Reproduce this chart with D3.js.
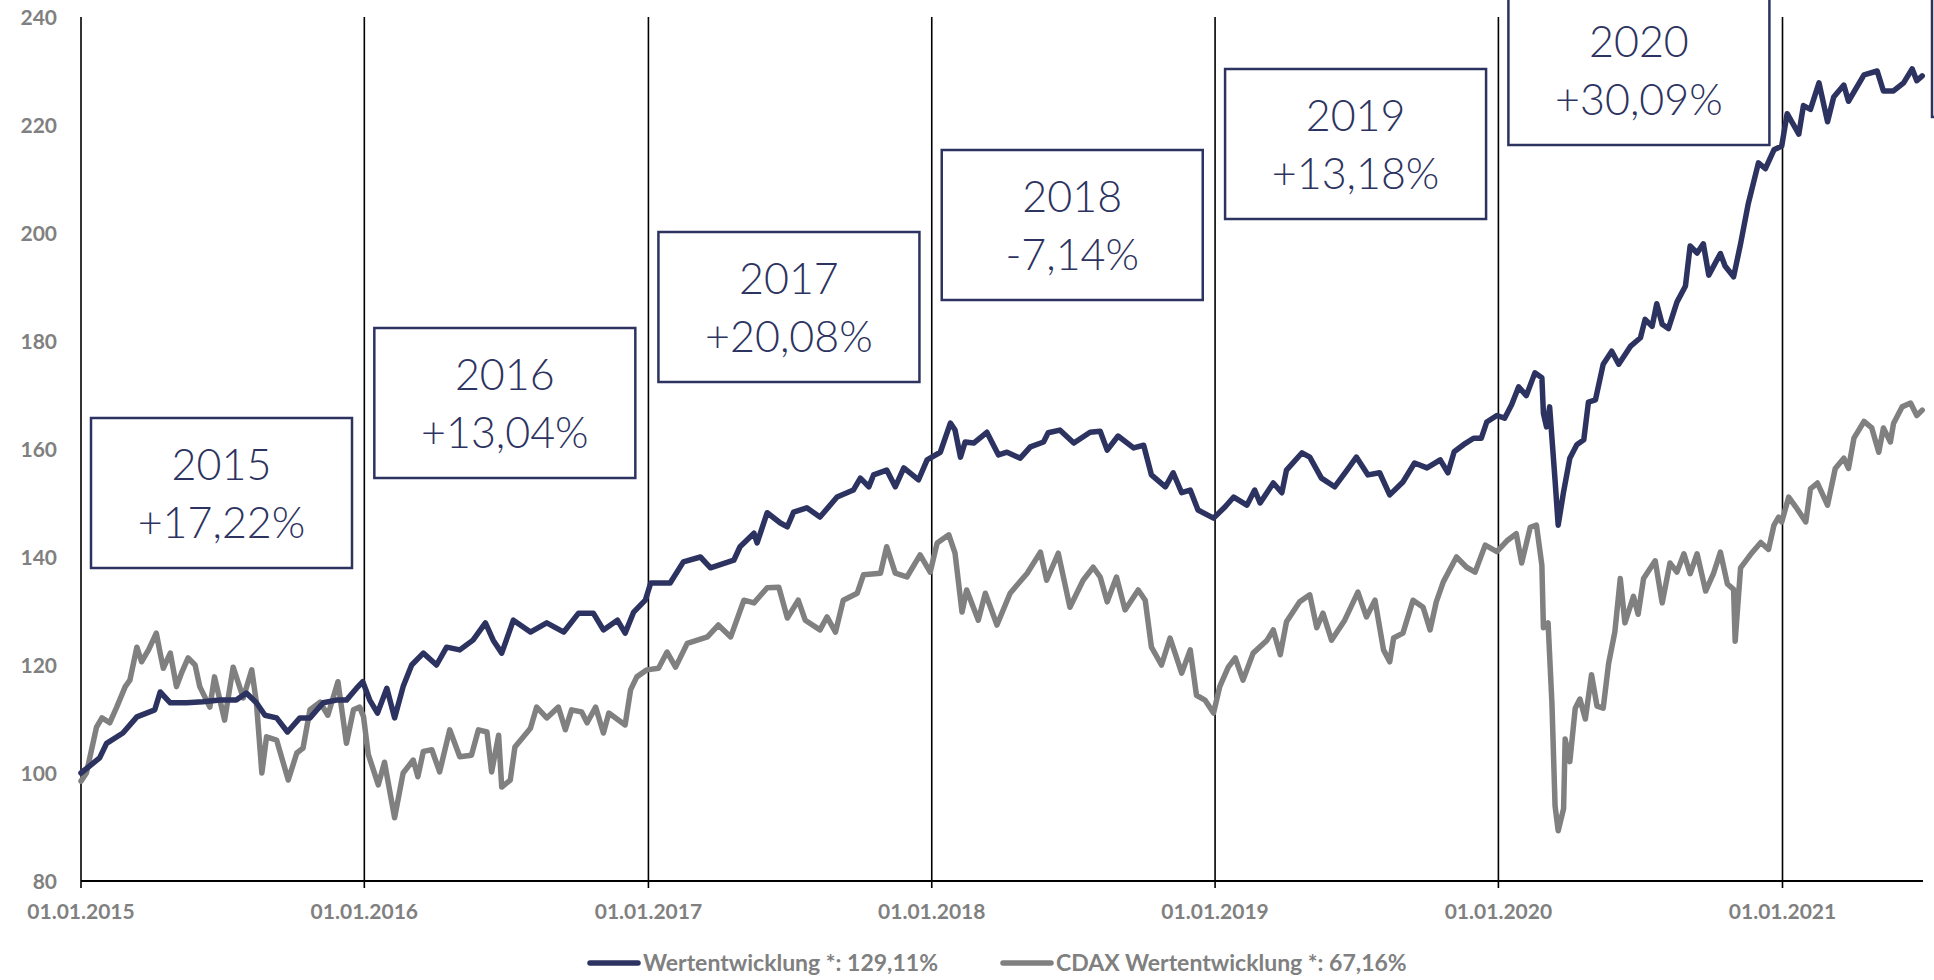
<!DOCTYPE html>
<html>
<head>
<meta charset="utf-8">
<script src="https://cdn.jsdelivr.net/npm/d3@7"></script>
<style>
  html, body { margin: 0; padding: 0; background: #fff; }
  svg { display: block; }
</style>
</head>
<body>
<svg id="chart" width="1934" height="980"></svg>
<script>
// Wertentwicklung (Fonds), indexiert auf 100
const fundSeries = [
  ['2015-01-01', 100.0], ['2015-01-25', 102.8], ['2015-02-03', 105.5], ['2015-02-24', 107.4], ['2015-03-14', 110.4],
  ['2015-04-06', 111.7], ['2015-04-13', 115.0], ['2015-04-26', 113.0], ['2015-05-17', 113.0], ['2015-06-07', 113.2],
  ['2015-06-29', 113.5], ['2015-07-20', 113.5], ['2015-08-02', 114.8], ['2015-08-15', 113.0], ['2015-08-26', 110.7],
  ['2015-09-10', 110.2], ['2015-09-24', 107.6], ['2015-10-10', 110.2], ['2015-10-23', 110.2], ['2015-11-09', 113.0],
  ['2015-11-26', 113.5], ['2015-12-09', 113.5], ['2015-12-22', 115.7], ['2015-12-30', 116.9],
  ['2016-01-08', 113.5], ['2016-01-18', 111.1], ['2016-01-30', 115.7], ['2016-02-09', 110.2], ['2016-02-20', 116.0],
  ['2016-03-02', 120.0], ['2016-03-17', 122.2], ['2016-04-03', 120.0], ['2016-04-16', 123.3], ['2016-05-03', 122.8],
  ['2016-05-20', 124.6], ['2016-06-05', 127.8], ['2016-06-15', 124.6], ['2016-06-26', 122.2], ['2016-07-11', 128.3],
  ['2016-08-02', 126.1], ['2016-08-23', 127.8], ['2016-09-14', 126.1], ['2016-10-03', 129.6], ['2016-10-22', 129.6],
  ['2016-11-04', 126.5], ['2016-11-22', 128.3], ['2016-12-02', 125.9], ['2016-12-13', 129.8], ['2016-12-28', 132.0],
  ['2017-01-04', 135.2], ['2017-01-29', 135.2], ['2017-02-15', 139.1], ['2017-03-09', 140.0], ['2017-03-22', 138.0],
  ['2017-04-21', 139.4], ['2017-04-29', 141.9], ['2017-05-17', 144.4], ['2017-05-21', 142.6], ['2017-06-03', 148.2],
  ['2017-06-20', 146.3], ['2017-06-29', 145.6], ['2017-07-07', 148.3], ['2017-07-24', 149.1], ['2017-08-10', 147.4],
  ['2017-09-01', 151.1], ['2017-09-22', 152.4], ['2017-10-01', 154.6], ['2017-10-12', 153.0], ['2017-10-18', 155.2],
  ['2017-11-04', 156.1], ['2017-11-15', 153.0], ['2017-11-26', 156.5], ['2017-12-15', 154.3], ['2017-12-26', 158.0],
  ['2018-01-12', 159.4], ['2018-01-25', 164.8], ['2018-01-31', 163.5], ['2018-02-07', 158.5], ['2018-02-13', 161.3],
  ['2018-02-24', 161.1], ['2018-03-13', 163.1], ['2018-03-28', 158.9], ['2018-04-08', 159.4], ['2018-04-25', 158.3],
  ['2018-05-08', 160.4], ['2018-05-25', 161.3], ['2018-05-31', 163.0], ['2018-06-15', 163.5], ['2018-07-03', 161.1],
  ['2018-07-24', 163.1], ['2018-08-06', 163.3], ['2018-08-15', 159.8], ['2018-08-29', 162.4], ['2018-09-18', 160.2],
  ['2018-10-01', 160.7], ['2018-10-11', 155.2], ['2018-10-29', 153.0], ['2018-11-08', 155.6], ['2018-11-19', 151.9],
  ['2018-11-30', 152.4], ['2018-12-10', 148.7], ['2018-12-30', 147.2],
  ['2019-01-14', 149.3], ['2019-01-25', 151.1], ['2019-02-11', 149.6], ['2019-02-21', 152.4], ['2019-02-28', 150.0],
  ['2019-03-17', 153.7], ['2019-03-28', 151.9], ['2019-04-03', 156.1], ['2019-04-23', 159.3], ['2019-05-03', 158.5],
  ['2019-05-18', 154.6], ['2019-06-04', 153.0], ['2019-06-20', 156.1], ['2019-07-02', 158.5], ['2019-07-17', 155.2],
  ['2019-08-01', 155.6], ['2019-08-14', 151.5], ['2019-08-31', 153.9], ['2019-09-15', 157.4], ['2019-10-01', 156.5],
  ['2019-10-18', 158.0], ['2019-10-28', 155.6], ['2019-11-05', 159.5], ['2019-11-17', 160.8], ['2019-11-30', 162.0],
  ['2019-12-10', 162.0], ['2019-12-17', 165.0], ['2019-12-30', 166.2],
  ['2020-01-09', 165.7], ['2020-01-18', 168.2], ['2020-01-27', 171.5], ['2020-02-06', 169.9], ['2020-02-17', 174.1],
  ['2020-02-26', 173.2], ['2020-02-28', 166.6], ['2020-03-03', 164.1], ['2020-03-07', 167.8], ['2020-03-14', 154.2],
  ['2020-03-18', 145.9], ['2020-03-25', 152.1], ['2020-04-02', 158.3], ['2020-04-11', 160.8], ['2020-04-20', 161.7],
  ['2020-04-26', 168.7], ['2020-05-05', 169.1], ['2020-05-15', 175.7], ['2020-05-26', 178.1], ['2020-06-04', 175.7],
  ['2020-06-19', 179.0], ['2020-07-02', 180.6], ['2020-07-08', 184.0], ['2020-07-17', 182.7], ['2020-07-23', 186.9],
  ['2020-07-30', 183.1], ['2020-08-07', 182.3], ['2020-08-18', 187.2], ['2020-08-29', 190.2], ['2020-09-04', 197.6],
  ['2020-09-13', 196.3], ['2020-09-21', 198.0], ['2020-09-28', 192.2], ['2020-10-13', 196.2], ['2020-10-19', 193.9],
  ['2020-10-30', 191.9], ['2020-11-08', 198.0], ['2020-11-18', 205.5], ['2020-12-01', 213.0], ['2020-12-10', 211.9],
  ['2020-12-21', 215.4], ['2020-12-31', 216.1],
  ['2021-01-07', 222.1], ['2021-01-22', 218.3], ['2021-01-28', 223.6], ['2021-02-06', 222.9], ['2021-02-17', 227.8],
  ['2021-02-28', 220.6], ['2021-03-08', 225.2], ['2021-03-21', 227.4], ['2021-03-27', 224.4], ['2021-04-16', 229.3],
  ['2021-05-03', 230.0], ['2021-05-11', 226.3], ['2021-05-24', 226.3], ['2021-06-06', 227.8], ['2021-06-17', 230.4],
  ['2021-06-23', 228.2], ['2021-06-30', 229.1],
];

// CDAX, indexiert auf 100
const cdaxSeries = [
  ['2015-01-01', 98.5], ['2015-01-08', 100.0], ['2015-01-21', 108.5], ['2015-01-28', 110.2], ['2015-02-07', 109.3],
  ['2015-02-16', 112.2], ['2015-02-27', 116.0], ['2015-03-05', 117.2], ['2015-03-14', 123.3], ['2015-03-20', 120.6],
  ['2015-03-29', 122.8], ['2015-04-08', 125.9], ['2015-04-13', 122.2], ['2015-04-17', 119.4], ['2015-04-26', 122.2],
  ['2015-05-04', 116.0], ['2015-05-11', 118.7], ['2015-05-19', 121.3], ['2015-05-28', 120.0], ['2015-06-03', 116.0],
  ['2015-06-16', 112.2], ['2015-06-22', 117.8], ['2015-07-05', 109.8], ['2015-07-16', 119.6], ['2015-07-29', 113.9],
  ['2015-08-09', 119.1], ['2015-08-15', 113.0], ['2015-08-22', 100.0], ['2015-08-28', 106.7], ['2015-09-10', 106.1],
  ['2015-09-25', 98.7], ['2015-10-06', 103.7], ['2015-10-14', 104.6], ['2015-10-23', 111.7], ['2015-11-05', 113.1],
  ['2015-11-15', 110.7], ['2015-11-28', 116.9], ['2015-12-09', 105.5], ['2015-12-18', 111.7], ['2015-12-26', 112.2],
  ['2015-12-31', 110.4],
  ['2016-01-06', 103.5], ['2016-01-19', 97.8], ['2016-01-27', 102.0], ['2016-02-09', 91.7], ['2016-02-20', 100.0],
  ['2016-03-04', 102.4], ['2016-03-10', 99.3], ['2016-03-17', 104.0], ['2016-03-28', 104.3], ['2016-04-07', 100.2],
  ['2016-04-20', 108.0], ['2016-05-03', 103.0], ['2016-05-18', 103.3], ['2016-05-27', 108.0], ['2016-06-07', 107.6],
  ['2016-06-13', 100.2], ['2016-06-22', 107.0], ['2016-06-26', 97.4], ['2016-07-07', 98.7], ['2016-07-13', 104.8],
  ['2016-07-24', 106.7], ['2016-08-02', 108.3], ['2016-08-10', 112.2], ['2016-08-23', 110.2], ['2016-09-07', 112.2],
  ['2016-09-16', 108.0], ['2016-09-24', 111.7], ['2016-10-07', 111.3], ['2016-10-14', 109.3], ['2016-10-25', 112.2],
  ['2016-11-04', 107.4], ['2016-11-11', 111.1], ['2016-12-02', 108.9], ['2016-12-09', 115.4], ['2016-12-17', 117.8],
  ['2016-12-30', 119.1],
  ['2017-01-14', 119.4], ['2017-01-25', 122.4], ['2017-02-05', 119.6], ['2017-02-20', 124.0], ['2017-03-18', 125.2],
  ['2017-04-01', 127.4], ['2017-04-17', 125.2], ['2017-05-04', 132.0], ['2017-05-17', 131.5], ['2017-06-03', 134.3],
  ['2017-06-18', 134.4], ['2017-06-29', 128.7], ['2017-07-13', 132.0], ['2017-07-22', 128.3], ['2017-08-10', 126.5],
  ['2017-08-19', 128.9], ['2017-08-30', 126.1], ['2017-09-09', 132.0], ['2017-09-27', 133.3], ['2017-10-05', 136.7],
  ['2017-10-27', 137.0], ['2017-11-04', 141.9], ['2017-11-15', 137.0], ['2017-11-30', 136.3], ['2017-12-17', 140.4],
  ['2017-12-30', 137.2],
  ['2018-01-08', 142.6], ['2018-01-23', 144.1], ['2018-01-31', 140.7], ['2018-02-09', 129.8], ['2018-02-15', 133.9],
  ['2018-03-02', 128.3], ['2018-03-11', 133.3], ['2018-03-26', 127.4], ['2018-04-12', 133.3], ['2018-05-04', 137.0],
  ['2018-05-21', 140.9], ['2018-05-29', 135.7], ['2018-06-13', 140.7], ['2018-06-28', 130.7], ['2018-07-15', 135.7],
  ['2018-07-28', 138.1], ['2018-08-06', 136.3], ['2018-08-15', 131.7], ['2018-08-27', 136.3], ['2018-09-07', 130.2],
  ['2018-09-24', 133.9], ['2018-10-03', 132.0], ['2018-10-11', 123.3], ['2018-10-24', 120.0], ['2018-11-04', 125.0],
  ['2018-11-19', 118.5], ['2018-11-30', 122.8], ['2018-12-08', 114.4], ['2018-12-19', 113.5], ['2018-12-30', 111.1],
  ['2019-01-07', 116.0], ['2019-01-18', 119.6], ['2019-01-27', 121.3], ['2019-02-06', 117.2], ['2019-02-19', 122.2],
  ['2019-03-09', 124.6], ['2019-03-17', 126.5], ['2019-03-26', 121.9], ['2019-04-03', 128.0], ['2019-04-20', 131.7],
  ['2019-05-03', 133.0], ['2019-05-12', 126.9], ['2019-05-20', 129.6], ['2019-05-31', 124.6], ['2019-06-17', 128.3],
  ['2019-07-04', 133.5], ['2019-07-15', 128.9], ['2019-07-26', 132.0], ['2019-08-06', 122.8], ['2019-08-14', 120.6],
  ['2019-08-19', 125.0], ['2019-08-31', 125.9], ['2019-09-13', 132.0], ['2019-09-26', 130.7], ['2019-10-05', 126.5],
  ['2019-10-13', 131.7], ['2019-10-22', 135.4], ['2019-11-08', 140.0], ['2019-11-21', 138.1], ['2019-12-02', 137.2],
  ['2019-12-15', 142.2], ['2019-12-30', 141.0],
  ['2020-01-12', 143.0], ['2020-01-24', 144.3], ['2020-01-31', 138.9], ['2020-02-11', 145.5], ['2020-02-19', 145.9],
  ['2020-02-26', 138.5], ['2020-02-28', 126.9], ['2020-03-05', 127.8], ['2020-03-10', 112.8], ['2020-03-14', 93.9],
  ['2020-03-18', 89.3], ['2020-03-25', 93.4], ['2020-03-27', 106.3], ['2020-04-02', 102.1], ['2020-04-09', 112.0],
  ['2020-04-15', 113.7], ['2020-04-22', 110.0], ['2020-04-30', 118.2], ['2020-05-07', 112.4], ['2020-05-15', 112.0],
  ['2020-05-22', 120.3], ['2020-05-30', 126.1], ['2020-06-06', 136.0], ['2020-06-12', 127.8], ['2020-06-23', 132.7],
  ['2020-06-29', 129.4], ['2020-07-06', 136.0], ['2020-07-21', 139.3], ['2020-07-30', 131.5], ['2020-08-09', 138.9],
  ['2020-08-18', 137.2], ['2020-08-27', 140.6], ['2020-09-04', 136.9], ['2020-09-13', 140.6], ['2020-09-24', 133.7],
  ['2020-10-04', 136.9], ['2020-10-13', 140.9], ['2020-10-22', 135.0], ['2020-10-30', 134.0], ['2020-11-01', 124.4],
  ['2020-11-08', 138.0], ['2020-11-21', 140.5], ['2020-12-04', 142.7], ['2020-12-14', 141.4], ['2020-12-21', 145.9],
  ['2020-12-27', 147.4], ['2020-12-31', 146.5],
  ['2021-01-09', 151.1], ['2021-01-18', 149.3], ['2021-01-31', 146.5], ['2021-02-06', 152.6], ['2021-02-15', 153.7],
  ['2021-02-28', 149.6], ['2021-03-10', 156.4], ['2021-03-21', 158.3], ['2021-03-27', 156.4], ['2021-04-03', 162.0],
  ['2021-04-16', 165.1], ['2021-04-26', 163.9], ['2021-05-05', 159.4], ['2021-05-11', 163.9], ['2021-05-20', 161.3],
  ['2021-05-24', 164.7], ['2021-06-04', 167.8], ['2021-06-15', 168.5], ['2021-06-23', 166.2], ['2021-06-30', 167.2],
];

// Jahresergebnisse (Kästen)
const years = ['2015', '2016', '2017', '2018', '2019', '2020'];
const yearReturns = ['+17,22%', '+13,04%', '+20,08%', '-7,14%', '+13,18%', '+30,09%'];

const yTicks = [80, 100, 120, 140, 160, 180, 200, 220, 240];
const xTicks = ['2015-01-01', '2016-01-01', '2017-01-01', '2018-01-01', '2019-01-01', '2020-01-01', '2021-01-01'];
const legendLabels = ['Wertentwicklung *: 129,11%', 'CDAX Wertentwicklung *: 67,16%'];

// layout
const boxTop = [418, 328, 232, 150, 69, -5];
const boxW = 261;
const boxH = 150;
const navy = '#2d3360';
const grey = '#808080';

const parse = d3.timeParse('%Y-%m-%d');
const fmt = d3.timeFormat('%d.%m.%Y');

const svg = d3.select('#chart');

const x = d3.scaleTime()
    .domain([parse('2015-01-01'), parse('2021-07-01')])
    .range([81, 1923]);
const y = d3.scaleLinear()
    .domain([80, 240])
    .range([881, 17]);

// vertical year lines
svg.append('g')
    .selectAll('line')
    .data(xTicks)
    .enter().append('line')
    .attr('x1', (d)=>x(parse(d)))
    .attr('x2', (d)=>x(parse(d)))
    .attr('y1', y(240))
    .attr('y2', y(80) + 7)
    .style('stroke', '#000')
    .style('stroke-width', 1.6);

// x axis baseline
svg.append('line')
    .attr('x1', x.range()[0])
    .attr('x2', x.range()[1])
    .attr('y1', y(80))
    .attr('y2', y(80))
    .style('stroke', '#000')
    .style('stroke-width', 2);

// y labels
svg.append('g')
    .selectAll('text')
    .data(yTicks)
    .enter().append('text')
    .attr('x', 57)
    .attr('y', (d)=>y(d))
    .attr('dy', '0.36em')
    .attr('text-anchor', 'end')
    .style('font-family', 'Lato, sans-serif')
    .style('font-weight', 700)
    .style('font-size', '21px')
    .style('fill', grey)
    .text((d)=>d);

// x labels
svg.append('g')
    .selectAll('text')
    .data(xTicks)
    .enter().append('text')
    .attr('x', (d)=>x(parse(d)))
    .attr('y', 919)
    .attr('text-anchor', 'middle')
    .style('font-family', 'Lato, sans-serif')
    .style('font-weight', 700)
    .style('font-size', '21px')
    .style('fill', grey)
    .text((d)=>fmt(parse(d)));

// year boxes
const box = svg.append('g')
    .selectAll('g')
    .data(years)
    .enter().append('g')
    .attr('transform', (d, i)=>`translate(${x(parse(d + '-01-01')) + 10},${boxTop[i]})`);

box.append('rect')
    .attr('width', boxW)
    .attr('height', boxH)
    .style('fill', '#fff')
    .style('stroke', navy)
    .style('stroke-width', 2.5);

box.append('text')
    .attr('x', boxW / 2)
    .attr('y', 62)
    .attr('text-anchor', 'middle')
    .style('font-family', 'Lato, sans-serif')
    .style('font-weight', 300)
    .style('font-size', '43px')
    .style('fill', navy)
    .text((d)=>d);

box.append('text')
    .attr('x', boxW / 2)
    .attr('y', 120)
    .attr('text-anchor', 'middle')
    .style('font-family', 'Lato, sans-serif')
    .style('font-weight', 300)
    .style('font-size', '43px')
    .style('fill', navy)
    .text((d, i)=>yearReturns[i]);

// next year's box, only its left edge is inside the picture
svg.append('rect')
    .attr('x', 1932)
    .attr('y', -33)
    .attr('width', boxW)
    .attr('height', boxH)
    .style('fill', 'none')
    .style('stroke', navy)
    .style('stroke-width', 2.5);

const line = d3.line()
    .x((d)=>x(parse(d[0])))
    .y((d)=>y(d[1]));

svg.append('path')
    .datum(cdaxSeries)
    .attr('d', line)
    .style('fill', 'none')
    .style('stroke', grey)
    .style('stroke-width', 5.5)
    .style('stroke-linejoin', 'round')
    .style('stroke-linecap', 'round');

svg.append('path')
    .datum(fundSeries)
    .attr('d', line)
    .style('fill', 'none')
    .style('stroke', navy)
    .style('stroke-width', 5.5)
    .style('stroke-linejoin', 'round')
    .style('stroke-linecap', 'round');

// legend
const legendX = [588, 1001];
const legendColors = [navy, grey];
const legend = svg.append('g')
    .selectAll('g')
    .data(legendLabels)
    .enter().append('g')
    .attr('transform', (d, i)=>`translate(${legendX[i]},963)`);

legend.append('line')
    .attr('x1', 2)
    .attr('x2', 50)
    .style('stroke', (d, i)=>legendColors[i])
    .style('stroke-width', 5.5)
    .style('stroke-linecap', 'round');

legend.append('text')
    .attr('x', 55)
    .attr('dy', '0.35em')
    .style('font-family', 'Lato, sans-serif')
    .style('font-weight', 700)
    .style('font-size', '23px')
    .style('fill', grey)
    .text((d)=>d);
</script>
</body>
</html>
